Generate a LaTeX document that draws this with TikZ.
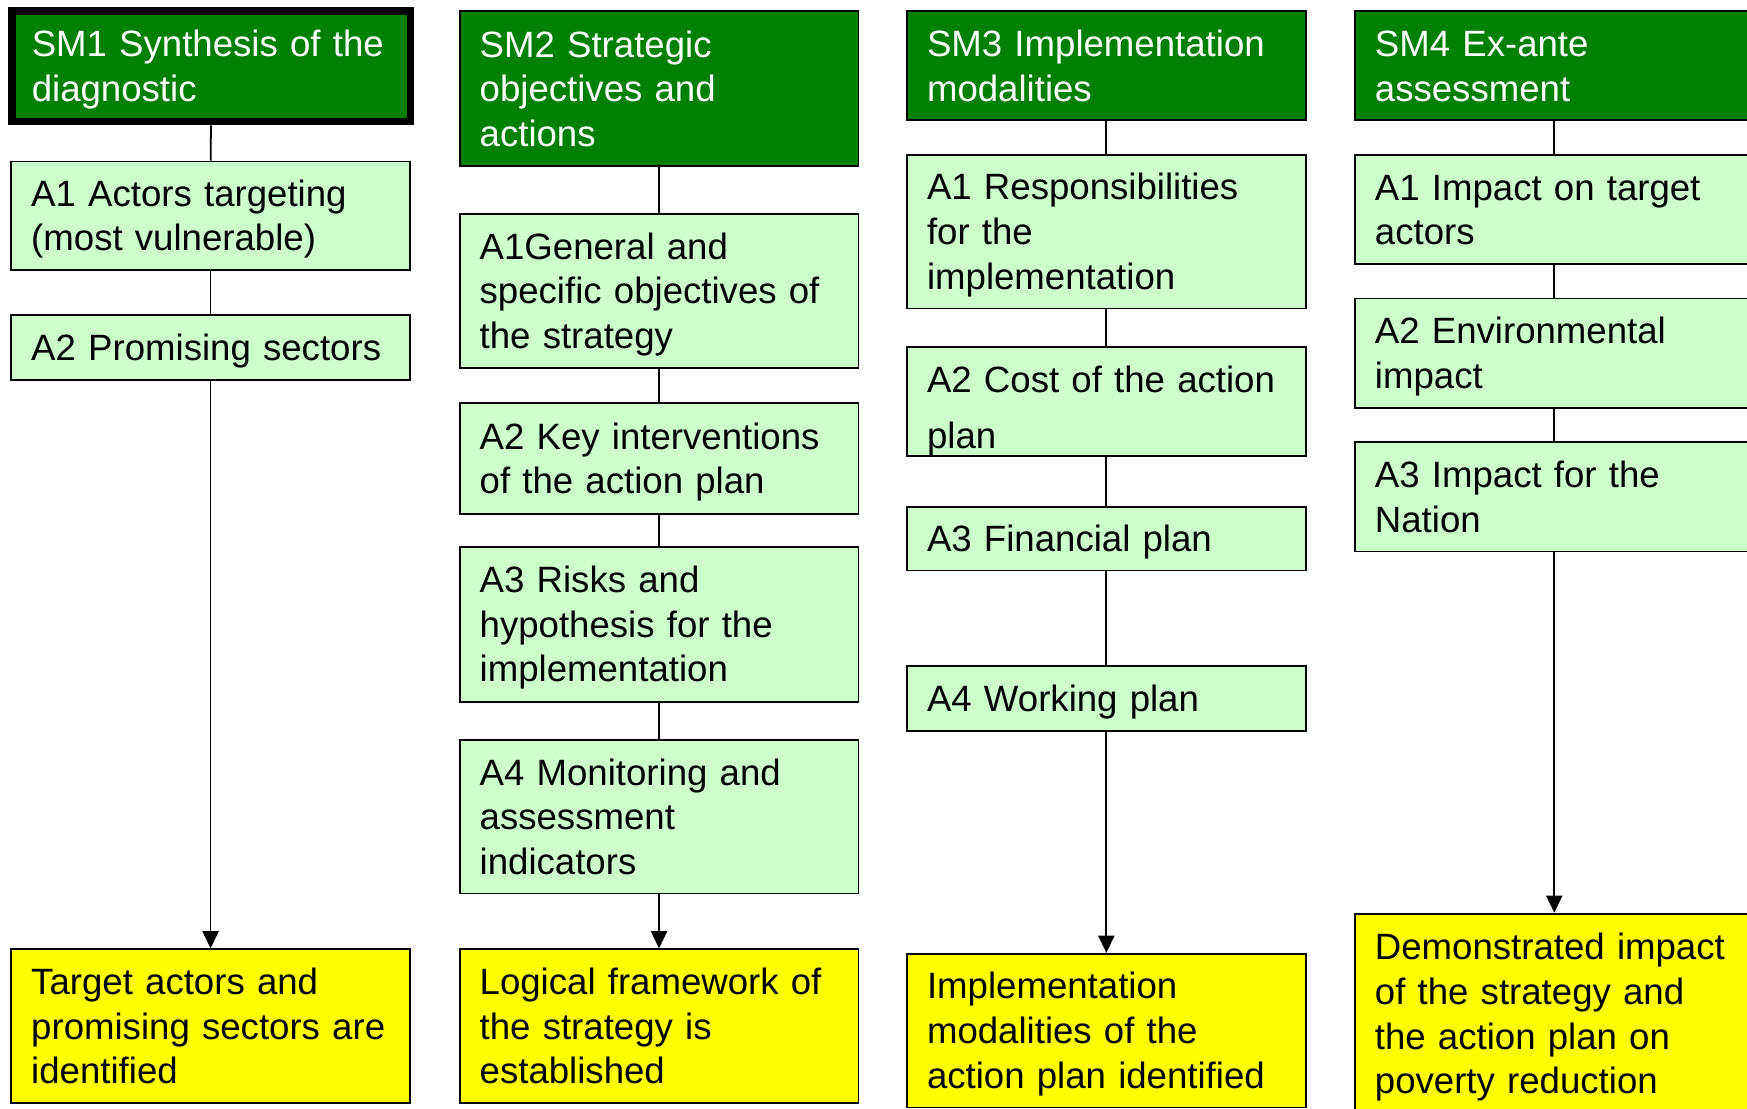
\documentclass[tikz,border=0pt]{standalone}
\usepackage{fontspec}
\setmainfont{Liberation Sans}
\usetikzlibrary{arrows.meta}
\definecolor{smgreen}{HTML}{008000}
\definecolor{actgreen}{HTML}{CCFFCC}
\definecolor{resyellow}{HTML}{FFFF00}
\begin{document}
\begin{tikzpicture}[x=0.02cm,y=-0.02cm,
  box/.style={draw=black, line width=0.9pt, text width=6.44cm, inner xsep=0.36cm, inner ysep=0pt,
    align=left, font=\fontsize{18.7}{22.8}\selectfont,
    execute at begin node={\rule{0pt}{17pt}},
    execute at end node={\rule[-3.6pt]{0pt}{3.6pt}}},
  smbox/.style={box, fill=smgreen, text=white},
  actbox/.style={box, fill=actgreen},
  resbox/.style={box, fill=resyellow},
  conn/.style={draw=black, line width=0.9pt},
  arr/.style={conn, -{Triangle[width=0.29cm,length=0.31cm]}}]
\useasboundingbox (0,0) rectangle (1568,995);
\clip (0,0) rectangle (1568,995);
% Column 1
\node[smbox, line width=4pt, minimum height=1.98cm] (sm1) at (189.5,59.5) {SM1 Synthesis of the\\diagnostic};
\node[actbox, minimum height=1.94cm] (c1a1) at (189,193.5) {A1 Actors targeting\\(most vulnerable)};
\node[actbox, minimum height=1.16cm] (c1a2) at (189,312) {A2 Promising sectors};
\node[resbox, minimum height=2.76cm] (r1) at (189,921) {Target actors and\\promising sectors are\\identified};
% Column 2
\node[smbox, minimum height=2.78cm] (sm2) at (591.5,79.5) {SM2 Strategic\\objectives and\\actions};
\node[actbox, minimum height=2.76cm] (c2a1) at (591.5,261) {A1General and\\specific objectives of\\the strategy};
\node[actbox, minimum height=1.98cm] (c2a2) at (591.5,411.5) {A2 Key interventions\\of the action plan};
\node[actbox, minimum height=2.78cm] (c2a3) at (591.5,560.5) {A3 Risks and\\hypothesis for the\\implementation};
\node[actbox, minimum height=2.76cm] (c2a4) at (591.5,733) {A4 Monitoring and\\assessment\\indicators};
\node[resbox, minimum height=2.76cm] (r2) at (591.5,921) {Logical framework of\\the strategy is\\established};
% Column 3
\node[smbox, minimum height=1.96cm] (sm3) at (993,59) {SM3 Implementation\\modalities};
\node[actbox, minimum height=2.76cm] (c3a1) at (993,208) {A1 Responsibilities\\for the\\implementation};
\node[actbox, minimum height=1.94cm, execute at begin node={\rule{0pt}{23.3pt}}] (c3a2) at (993,360.5) {A2 Cost of the action\\[5.7pt]plan};
\node[actbox, minimum height=1.14cm] (c3a3) at (993,483.5) {A3 Financial plan};
\node[actbox, minimum height=1.16cm] (c3a4) at (993,627) {A4 Working plan};
\node[resbox, minimum height=2.76cm] (r3) at (993,925) {Implementation\\modalities of the\\action plan identified};
% Column 4
\node[smbox, minimum height=1.96cm] (sm4) at (1395,59) {SM4 Ex-ante\\assessment};
\node[actbox, minimum height=1.96cm] (c4a1) at (1395,188) {A1 Impact on target\\actors};
\node[actbox, minimum height=1.96cm] (c4a2) at (1395,317) {A2 Environmental\\impact};
\node[actbox, minimum height=1.96cm] (c4a3) at (1395,446) {A3 Impact for the\\Nation};
\node[resbox, minimum height=3.6cm] (r4) at (1395,910) {Demonstrated impact\\of the strategy and\\the action plan on\\poverty reduction};
% Connectors
\draw[conn] (sm1) -- (c1a1);
\draw[conn] (c1a1) -- (c1a2);
\draw[arr] (c1a2) -- (r1);
\draw[conn] (sm2) -- (c2a1);
\draw[conn] (c2a1) -- (c2a2);
\draw[conn] (c2a2) -- (c2a3);
\draw[conn] (c2a3) -- (c2a4);
\draw[arr] (c2a4) -- (r2);
\draw[conn] (sm3) -- (c3a1);
\draw[conn] (c3a1) -- (c3a2);
\draw[conn] (c3a2) -- (c3a3);
\draw[conn] (c3a3) -- (c3a4);
\draw[arr] (c3a4) -- (r3);
\draw[conn] (sm4) -- (c4a1);
\draw[conn] (c4a1) -- (c4a2);
\draw[conn] (c4a2) -- (c4a3);
\draw[arr] (c4a3) -- (r4);
\end{tikzpicture}
\end{document}
